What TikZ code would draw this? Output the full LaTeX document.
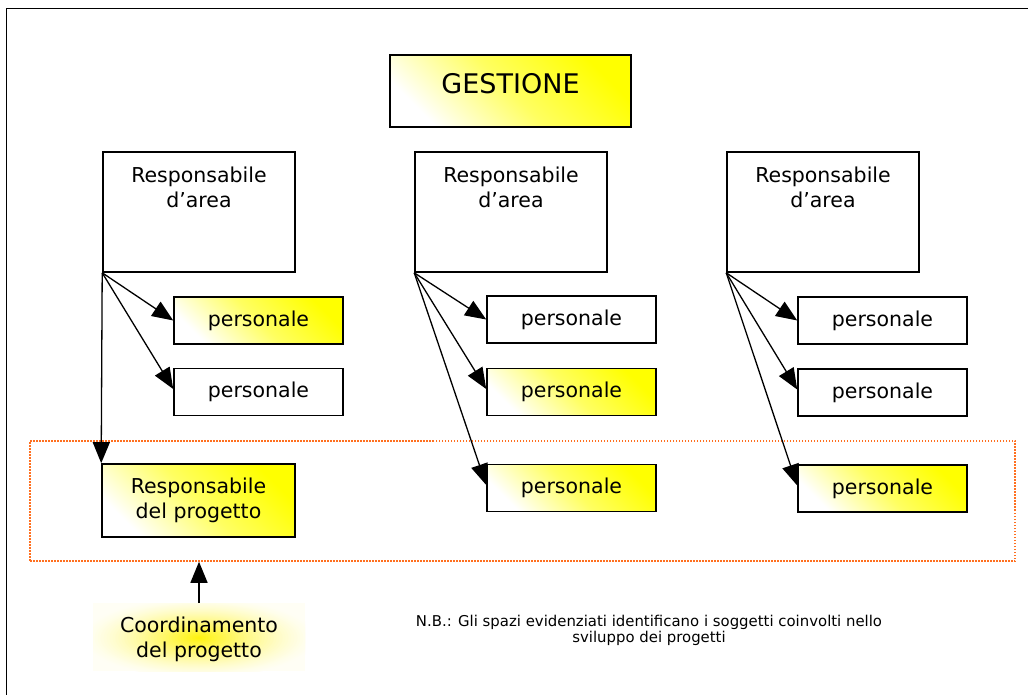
\documentclass[tikz,border=0pt]{standalone}
\usepackage{fontspec}
\setmainfont{DejaVu Sans}
\usetikzlibrary{arrows.meta}
\definecolor{zoneorange}{RGB}{255,112,32}
\begin{document}
\begin{tikzpicture}[x=1pt,y=-1pt,
  box/.style={draw=black, line width=1.6pt, inner sep=0pt, fill=white},
  hlbox/.style={box, top color=yellow, bottom color=white, middle color=yellow!62,
    shading angle=-45},
  areabox/.style={box, minimum width=192, minimum height=120},
  staffbox/.style={box, minimum width=169, minimum height=47,
    font=\fontsize{20.5}{25}\selectfont},
  txt/.style={align=center, inner sep=0pt, font=\fontsize{20.5}{25}\selectfont},
  link/.style={line width=1.3pt, -{Triangle[length=21pt,width=17pt]}},
]
\useasboundingbox (0,0) rectangle (1028,695);
\fill[white] (0,0) rectangle (1028,695);
% page frame
\draw[line width=1.8pt] (6.5,695) -- (6.5,8.5) -- (1028,8.5);

% management
\node[hlbox, minimum width=241, minimum height=72] (gest) at (510.5,91) {};
\node[inner sep=0pt, font=\fontsize{27}{30}\selectfont] (gesttxt) at (510.5,84) {GESTIONE};

% area managers
\node[areabox] (a1) at (199,212) {};
\node[areabox] (a2) at (511,212) {};
\node[areabox] (a3) at (823,212) {};
\node[txt, anchor=north] (t1) at ([yshift=-16pt]a1.north) {Responsabile\\d’area};
\node[txt, anchor=north] (t2) at ([yshift=-16pt]a2.north) {Responsabile\\d’area};
\node[txt, anchor=north] (t3) at ([yshift=-16pt]a3.north) {Responsabile\\d’area};

% highlighted project zone
\node[draw=zoneorange, line width=1.5pt, dash pattern=on 1.5pt off 1.5pt,
  minimum width=985, minimum height=120, inner sep=0pt] (zone) at (522.5,501) {};

% staff, first column
\node[staffbox, hlbox] (p11) at (258.5,320.5) {personale};
\node[staffbox] (p12) at (258.5,392) {personale};
\node[box, hlbox, minimum width=193, minimum height=73, txt] (rp) at (198.5,500.5)
  {Responsabile\\del progetto};

% staff, second column
\node[staffbox] (p21) at (571.5,319.5) {personale};
\node[staffbox, hlbox] (p22) at (571.5,392) {personale};
\node[staffbox, hlbox] (p23) at (571.5,488) {personale};

% staff, third column
\node[staffbox] (p31) at (882.5,320.5) {personale};
\node[staffbox] (p32) at (882.5,392.5) {personale};
\node[staffbox, hlbox] (p33) at (882.5,488.5) {personale};

% links from each area manager
\draw[link] (a1.south west) -- (p11.west);
\draw[link] (a1.south west) -- ([yshift=3pt]p12.west);
\draw[link] (a1.south west) -- (rp.north west);
\draw[link] (a2.south west) -- (p21.west);
\draw[link] (a2.south west) -- ([yshift=3pt]p22.west);
\draw[link] (a2.south west) -- ([yshift=3pt]p23.west);
\draw[link] (a3.south west) -- (p31.west);
\draw[link] (a3.south west) -- ([yshift=3pt]p32.west);
\draw[link] (a3.south west) -- ([yshift=3pt]p33.west);

% coordination: soft elliptical yellow glow built from stacked ellipses
\begin{scope}
  \clip (93,603) rectangle (305,671);
  \fill[yellow!4] (93,603) rectangle (305,671);
  \foreach \k in {1,...,40}{
    \pgfmathsetmacro\rr{1-\k/40}
    \pgfmathsetmacro\gl{4+91*(\k/40)^1.4}
    \fill[yellow!\gl] (199,638) ellipse [x radius={118*\rr+1}, y radius={40*\rr+0.5}];
  }
\end{scope}
\coordinate (glowtop) at (199,603);
\node[txt] (coord) at (199,639) {Coordinamento\\del progetto};
\draw[link] (glowtop) -- (glowtop |- zone.south);

% note
\node[align=center, inner sep=0pt, font=\fontsize{14.9}{16}\selectfont] (note) at (649,630)
  {N.B.: Gli spazi evidenziati identificano i soggetti coinvolti nello\\sviluppo dei progetti};
\end{tikzpicture}
\end{document}
